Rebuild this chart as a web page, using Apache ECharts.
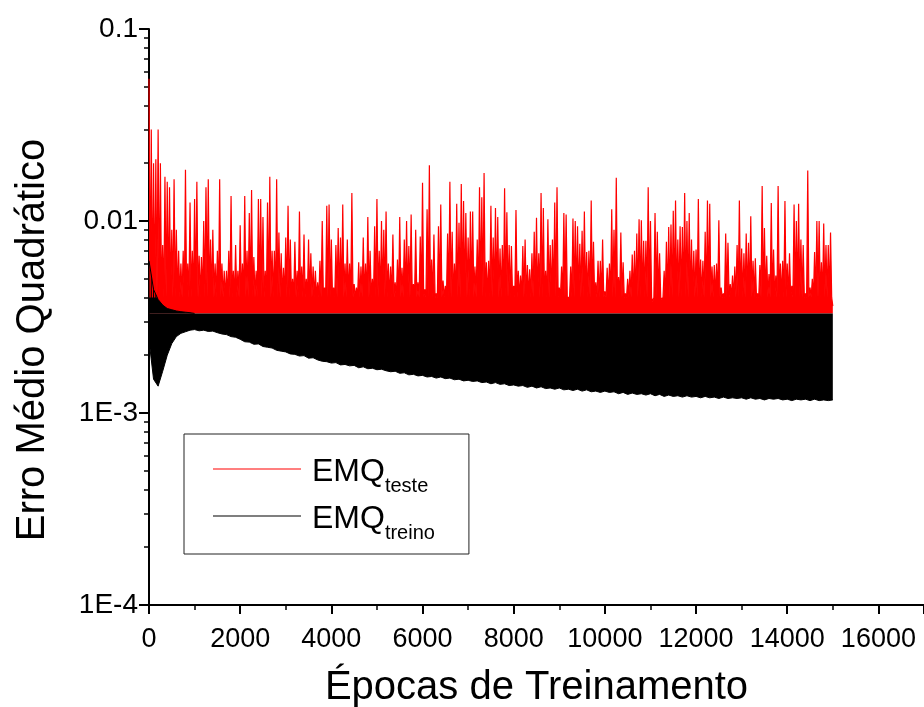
<!DOCTYPE html>
<html>
<head>
<meta charset="utf-8">
<script src="https://cdn.jsdelivr.net/npm/echarts@6/dist/echarts.min.js"></script>
<style>
  html, body { margin: 0; padding: 0; background: #fff; }
  #chart { width: 924px; height: 707px; }
</style>
</head>
<body>
<div id="chart"></div>
<script>
// all error values below are in units of 1E-4
const unit = 1e-4;

// EMQ teste: one reading every 50 epochs (spike tops)
const redStep = 50;
const redPeaks = [
  550, 300, 200, 210, 300, 200, 75, 170, 160, 150,
  90, 165, 90, 70, 60, 70, 185, 60, 125, 70,
  130, 160, 66, 65, 100, 150, 165, 80, 90, 60,
  70, 165, 60, 55, 55, 70, 135, 55, 75, 55,
  95, 60, 135, 70, 110, 145, 65, 55, 130,
  130, 105, 55, 125, 170, 70, 70, 165, 87, 68,
  57, 82, 120, 80, 50, 78, 55, 112, 58, 85,
  50, 80, 68, 58, 55, 48, 62, 100, 45, 120,
  122, 80, 45, 75, 92, 82, 122, 60, 80, 60,
  140, 47, 45, 61, 58, 82, 60, 105, 70, 50, 94,
  130, 70, 100, 90, 112, 60, 58, 85, 48, 63,
  105, 57, 80, 100, 74, 108, 47, 90, 48, 83,
  158, 44, 115, 195, 63, 85, 42, 94, 122, 49,
  46, 86, 160, 88, 60, 123, 98, 156, 127, 110,
  82, 112, 112, 58, 80, 150, 133, 178, 61, 62, 120,
  82, 117, 105, 72, 75, 148, 111, 75, 74, 46,
  114, 55, 52, 74, 80, 59, 56, 68, 88, 104,
  68, 140, 117, 55, 102, 75, 80, 125, 150, 45,
  58, 110, 108, 40, 58, 103, 100, 94, 76, 89,
  112, 69, 70, 128, 78, 48, 62, 62, 80, 43,
  57, 60, 115, 90, 168, 51, 87, 61, 42, 50,
  55, 67, 70, 86, 102, 101, 79, 79, 150, 100,
  38, 110, 88, 68, 39, 55, 78, 93, 96, 113,
  128, 80, 94, 93, 140, 100, 110, 80, 70, 71,
  130, 63, 62, 88, 128, 123, 58, 59, 60, 101, 45,
  42, 86, 77, 47, 52, 58, 75, 128, 72, 68,
  86, 77, 106, 62, 64, 42, 59, 152, 92, 66,
  53, 124, 71, 52, 152, 60, 62, 127, 60, 68,
  46, 122, 100, 123, 80, 75, 42, 183, 45, 50,
  69, 100, 100, 61, 97, 75, 75, 87, 36
];
// top of the solid red band between spikes
const redBandTop = 40;
// level where the red band sits on the black band
const floorLevel = 33;

// EMQ treino: lower edge of the black band, one reading every 100 epochs
const blackStep = 100;
const blackLow = [
  24, 15, 13.8, 16.5, 20, 23, 25, 26, 26.5, 27,
  27.2, 26.8, 27, 26.6, 26.7, 26.2, 25.8, 25.6, 25, 24.8,
  24.2, 23.5, 23.4, 22.8, 22.9, 22.2, 22, 21.8, 21.2, 21,
  20.8, 20.3, 20.2, 19.8, 19.9, 19.3, 19.4, 18.9, 18.6, 18.5,
  18.2, 18.3, 17.8, 17.9, 17.6, 17.7, 17.2, 17.4, 17.0, 17.1,
  16.8, 16.9, 16.6, 16.4, 16.5, 16.1, 16.2, 15.8, 15.9, 15.6,
  15.7, 15.4, 15.5, 15.2, 15.4, 15.1, 15.2, 14.9, 15.0, 14.7,
  14.8, 14.6, 14.7, 14.4, 14.5, 14.2, 14.4, 14.1, 14.2, 13.9,
  14.0, 13.8, 13.9, 13.6, 13.8, 13.5, 13.7, 13.4, 13.5, 13.3,
  13.5, 13.2, 13.3, 13.1, 13.3, 13.0, 13.2, 12.9, 13.0, 12.8,
  13.0, 12.8, 12.9, 12.6, 12.8, 12.5, 12.7, 12.5, 12.6, 12.4,
  12.6, 12.3, 12.5, 12.2, 12.4, 12.2, 12.3, 12.1, 12.3, 12.1,
  12.2, 12.0, 12.2, 12.0, 12.1, 11.9, 12.1, 11.9, 12.0, 11.9,
  12.0, 11.8, 12.0, 11.8, 11.9, 11.7, 11.9, 11.8, 11.9, 11.7,
  11.8, 11.6, 11.8, 11.7, 11.8, 11.6, 11.8, 11.6, 11.7, 11.6, 11.7
];
// upper edge of the black band during the first epochs
const blackTopEarly = [62, 44, 39, 36.5, 35, 34.5, 34, 33.7, 33.5, 33.3, 33];

const xTickLabels = ['0', '2000', '4000', '6000', '8000', '10000', '12000', '14000', '16000'];
const yTickLabels = ['1E-4', '1E-3', '0.01', '0.1'];
const minorMultipliers = [2, 3, 4, 5, 6, 7, 8, 9];
const legendMain = 'EMQ';
const legendSubs = ['teste', 'treino'];

const font = 'Liberation Sans, Arial, sans-serif';

let redData = [];
for (let i = 0; i < redPeaks.length; i++) {
  redData.push([i * redStep, redPeaks[i] * unit]);
  if (i < redPeaks.length - 1) redData.push([i * redStep + redStep / 2, redBandTop * unit]);
}
let blackLowData = blackLow.map((v, i) => [i * blackStep, v * unit]);
let blackTopData = blackTopEarly.map((v, i) => [i * blackStep, v * unit]);

// minor tick positions, in decades, for the overlay axis
let minorLog = [];
for (let d = -4; d < -1; d++) {
  for (let m of minorMultipliers) minorLog.push(d + Math.log10(m));
}

const names = legendSubs.map(s => legendMain + '_' + s);

let chart = echarts.init(document.getElementById('chart'));
let options = {
  animation: false,
  backgroundColor: '#fff',
  grid: {left: 149, right: 0, top: 29, bottom: 102, containLabel: false, outerBoundsMode: 'none'},
  legend: {
    data: names,
    orient: 'vertical',
    left: 184,
    top: 434,
    padding: [17, 34, 11, 29],
    itemGap: 2,
    icon: 'rect',
    itemWidth: 88,
    itemHeight: 1,
    borderColor: '#222',
    borderWidth: 1,
    selectedMode: false,
    formatter: name => '{m|' + legendMain + '}{s|' + name.split('_')[1] + '}',
    textStyle: {
      color: '#000',
      fontFamily: font,
      rich: {
        m: {fontSize: 32, fontFamily: font, color: '#000', lineHeight: 36, verticalAlign: 'top', padding: [5, 0, 0, 6]},
        s: {fontSize: 20, fontFamily: font, color: '#000', lineHeight: 20, verticalAlign: 'top', padding: [25, 0, 0, 0]}
      }
    }
  },
  xAxis: {
    type: 'value',
    min: 0,
    max: 17000,
    interval: 2000,
    name: 'Épocas de Treinamento',
    nameLocation: 'middle',
    nameGap: 63,
    nameTextStyle: {fontSize: 40, fontFamily: font, color: '#000'},
    axisLine: {show: true, lineStyle: {color: '#000', width: 2}},
    axisTick: {show: true, length: 9, lineStyle: {color: '#000', width: 2}},
    minorTick: {show: true, splitNumber: 2, length: 5, lineStyle: {color: '#000', width: 1.5}},
    splitLine: {show: false},
    axisLabel: {
      fontSize: 27, fontFamily: font, color: '#000', margin: 21,
      formatter: v => xTickLabels.includes(String(v)) ? String(v) : ''
    }
  },
  yAxis: [
    {
      type: 'log',
      logBase: 10,
      min: 1e-4,
      max: 0.1,
      name: 'Erro Médio Quadrático',
      nameLocation: 'middle',
      nameGap: 96,
      nameRotate: 90,
      nameTextStyle: {fontSize: 40, fontFamily: font, color: '#000', padding: [0, 46, 0, 0]},
      axisLine: {show: true, lineStyle: {color: '#000', width: 2}},
      axisTick: {show: true, length: 10, lineStyle: {color: '#000', width: 2}},
      minorTick: {show: false},
      splitLine: {show: false},
      axisLabel: {
        fontSize: 28, fontFamily: font, color: '#000', margin: 11,
        formatter: v => yTickLabels[Math.round(Math.log10(v)) + 4]
      }
    },
    {
      type: 'value',
      min: -4,
      max: -1,
      position: 'left',
      axisLine: {show: false},
      axisLabel: {show: false},
      splitLine: {show: false},
      axisTick: {show: true, length: 5, customValues: minorLog, lineStyle: {color: '#000', width: 1.5}}
    }
  ],
  series: [
    {
      name: names[0],
      type: 'line',
      data: redData,
      showSymbol: false,
      symbol: 'none',
      sampling: 'none',
      lineStyle: {color: '#ff0000', width: 1.2},
      itemStyle: {color: '#ff0000'},
      areaStyle: {color: '#ff0000', opacity: 1, origin: floorLevel * unit}
    },
    {
      name: names[1],
      type: 'line',
      data: blackLowData,
      showSymbol: false,
      symbol: 'none',
      sampling: 'none',
      lineStyle: {color: '#000', width: 1},
      itemStyle: {color: '#000'},
      areaStyle: {color: '#000', opacity: 1, origin: floorLevel * unit}
    },
    {
      name: names[1],
      type: 'line',
      data: blackTopData,
      showSymbol: false,
      symbol: 'none',
      lineStyle: {color: '#000', width: 1},
      itemStyle: {color: '#000'},
      areaStyle: {color: '#000', opacity: 1, origin: floorLevel * unit}
    }
  ]
};
chart.setOption(options);
</script>
</body>
</html>
